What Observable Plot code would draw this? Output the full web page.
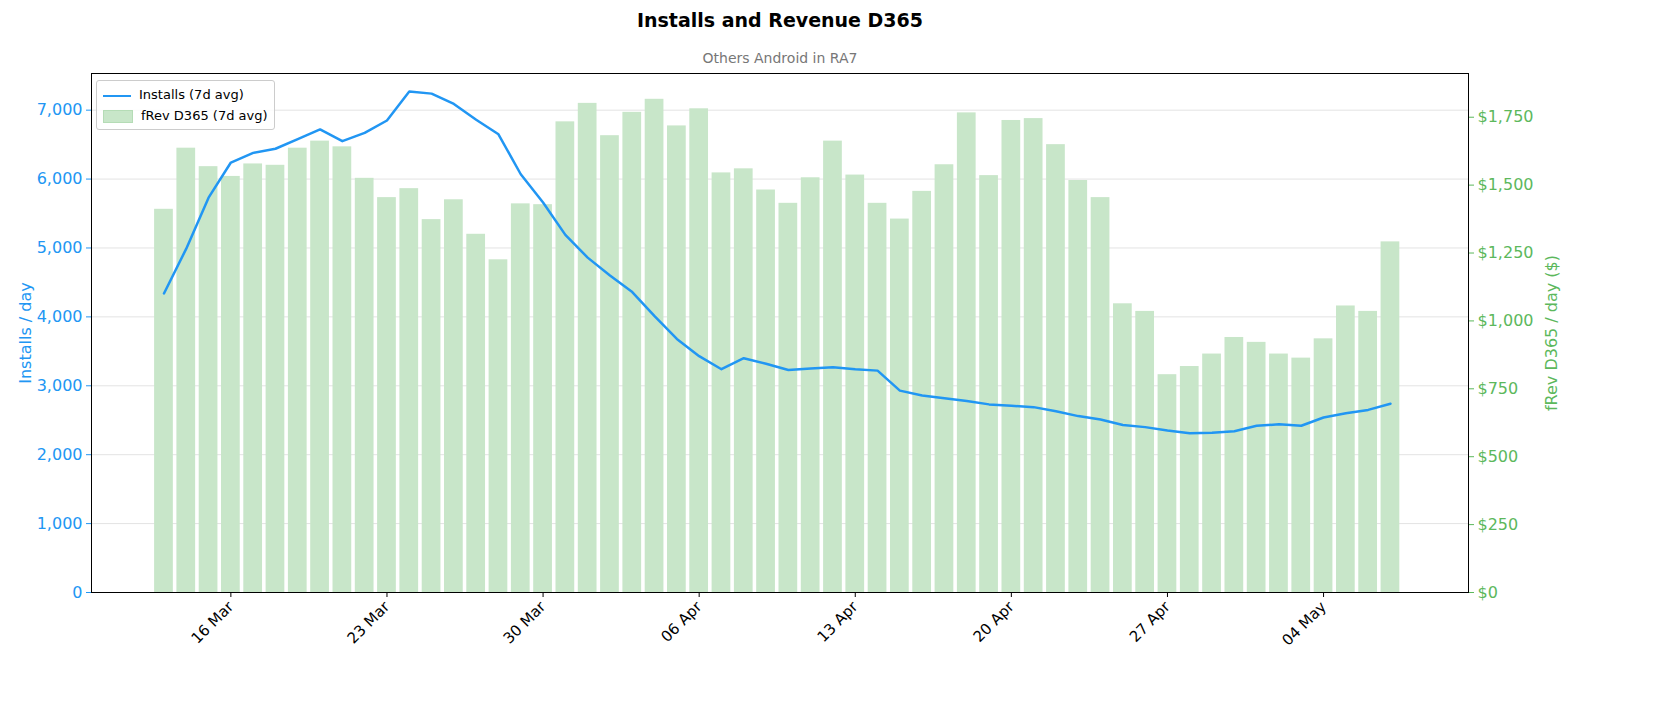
<!DOCTYPE html>
<html><head><meta charset="utf-8">
<script src="https://cdn.jsdelivr.net/npm/d3@7"></script>
<script src="https://cdn.jsdelivr.net/npm/@observablehq/plot@0.6"></script>
<style>
body{margin:0;background:#fff;font-family:"DejaVu Sans",sans-serif;}
#wrap{position:relative;width:1668px;height:712px;}
#title{position:absolute;top:9px;left:0;width:1560px;text-align:center;font-weight:bold;font-size:19px;}
#sub{position:absolute;top:50px;left:0;width:1560px;text-align:center;font-size:14px;color:#777;}
#chart{position:absolute;top:65px;left:0;}
#legend{position:absolute;top:80px;left:96px;border:1px solid #ccc;border-radius:3px;background:rgba(255,255,255,0.85);padding:3px 6px;font-size:13px;line-height:21px;}
.sw{display:inline-block;width:28px;vertical-align:middle;margin-right:8px;}
</style></head><body>
<div id="wrap"><div id="title">Installs and Revenue D365</div><div id="sub">Others Android in RA7</div><div id="chart"></div>
<div id="legend"><div><span class="sw" style="height:2px;background:#2196F3"></span>Installs (7d avg)</div><div><span class="sw" style="height:11px;background:#c8e6c9;border:1px solid #b5dcb6"></span>fRev D365 (7d avg)</div></div></div>
<script>
const startDate = "2025-03-13";
const installs = [4340,4990,5730,6240,6380,6440,6580,6720,6550,6670,6850,7270,7240,7090,6860,6650,6070,5660,5190,4860,4600,4360,4010,3680,3430,3240,3400,3320,3230,3250,3270,3240,3220,2930,2860,2820,2780,2730,2710,2690,2630,2560,2510,2430,2400,2350,2310,2320,2340,2420,2440,2420,2540,2600,2650,2740];
const revenue = [1411,1636,1568,1532,1578,1573,1636,1662,1641,1525,1454,1487,1373,1446,1319,1225,1431,1428,1733,1801,1682,1768,1816,1718,1781,1545,1560,1482,1433,1527,1662,1537,1433,1375,1477,1575,1766,1535,1738,1745,1649,1517,1454,1063,1035,802,832,878,939,921,878,863,934,1055,1035,1291];
const leftTicks = [0,1000,2000,3000,4000,5000,6000,7000];
const rightTicks = [0,250,500,750,1000,1250,1500,1750];
const yMax = 7532, rMax = 1911, k = yMax / rMax;
const day = 864e5;
const t0 = new Date(startDate + "T00:00:00Z");
const data = installs.map((v,i)=>({date:new Date(+t0 + i*day), inst:v, rev:revenue[i]}));
const xTicks = d3.range(0,8).map(i=>new Date(Date.UTC(2025,2,16)+i*7*day));
const blue="#2196F3", green="#5cb85c";
const chart = Plot.plot({
  width:1668, height:582, marginTop:8, marginBottom:55, marginLeft:91, marginRight:200,
  style:{fontFamily:"DejaVu Sans, sans-serif", fontSize:"14px", overflow:"visible"},
  x:{type:"utc", domain:[new Date(Date.UTC(2025,2,9,18)), new Date(Date.UTC(2025,4,10,12))]},
  y:{domain:[0,yMax]},
  marks:[
    Plot.ruleY(leftTicks.slice(1),{stroke:"#e3e3e3"}),
    Plot.rectY(data,{x1:d=>new Date(+d.date-0.42*day), x2:d=>new Date(+d.date+0.42*day), y:d=>d.rev*k, fill:"#c8e6c9"}),
    Plot.line(data,{x:"date", y:"inst", stroke:blue, strokeWidth:2.5}),
    Plot.axisY({ticks:leftTicks, tickFormat:d3.format(","), color:blue, tickSize:5, label:"Installs / day", labelAnchor:"center", labelArrow:"none", labelOffset:72, fontSize:16}),
    Plot.axisY({anchor:"right", ticks:rightTicks.map(v=>v*k), tickFormat:v=>"$"+d3.format(",")(Math.round(v/k)), color:green, tickSize:5, label:"fRev D365 / day ($)", labelAnchor:"center", labelArrow:"none", labelOffset:88, fontSize:16}),
    Plot.axisX({ticks:xTicks, tickFormat:d3.utcFormat("%d %b"), tickRotate:-45, tickSize:5, label:null, fontSize:15, color:"#000"}),
    Plot.frame({stroke:"#000"})
  ]
});
document.getElementById("chart").appendChild(chart);
</script></body></html>
